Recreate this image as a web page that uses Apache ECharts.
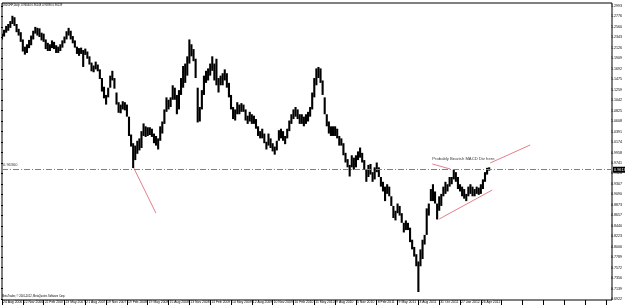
<!DOCTYPE html>
<html><head><meta charset="utf-8">
<script src="https://cdn.jsdelivr.net/npm/echarts@6/dist/echarts.min.js"></script>
<style>html,body{margin:0;padding:0;background:#fff}#c{width:625px;height:306px}</style>
</head><body><div id="c"></div>
<script>
// ---- data ----
const dateLabels = ['24 Aug 2006','22 Nov 2006','22 Feb 2007','23 May 2007','21 Aug 2007','19 Nov 2007','19 Feb 2008','19 May 2008','15 Aug 2008','13 Nov 2008','13 Feb 2009','14 May 2009','12 Aug 2009','10 Nov 2009','10 Feb 2010','11 May 2010','9 Aug 2010','5 Nov 2010','8 Feb 2011','9 May 2011','3 Aug 2011','31 Oct 2011','27 Jan 2012','26 Apr 2012'];
const yTickLabels = ['0.6922','0.7139','0.7356','0.7572','0.7789','0.8006','0.8223','0.8440','0.8657','0.8873','0.9090','0.9307','0.9524','0.9741','0.9958','1.0174','1.0391','1.0608','1.0825','1.1042','1.1259','1.1475','1.1692','1.1909','1.2126','1.2343','1.2560','1.2776','1.2993'];
const loPrice = [
1.2300,1.2360,1.2440,1.2480,1.2540,1.2620,1.2580,1.2450,1.2380,1.2250,
1.2050,1.1985,1.2020,1.2120,1.2180,1.2300,1.2420,1.2380,1.2350,1.2280,
1.2250,1.2100,1.2060,1.2060,1.2120,1.2100,1.2020,1.2020,1.2060,1.2130,
1.2220,1.2300,1.2380,1.2300,1.2220,1.2130,1.2000,1.1960,1.2000,1.1730,
1.1980,1.1900,1.1780,1.1640,1.1620,1.1680,1.1640,1.1480,1.1220,1.1080,
1.0950,1.1100,1.1300,1.1450,1.1280,1.0950,1.0780,1.0770,1.0850,1.0830,
1.0700,1.0300,1.0080,0.9636,0.9800,0.9930,1.0000,1.0050,1.0300,1.0280,
1.0300,1.0320,1.0280,1.0150,1.0100,1.0020,1.0200,1.0350,1.0550,1.0800,
1.0850,1.0900,1.1050,1.1050,1.0750,1.0850,1.1150,1.1300,1.1400,1.1550,
1.1800,1.1950,1.1850,1.1500,1.0580,1.0600,1.0850,1.1150,1.1400,1.1450,
1.1550,1.1650,1.1450,1.1350,1.1200,1.1350,1.1350,1.1450,1.1300,1.1100,
1.0850,1.0650,1.0620,1.0750,1.0750,1.0800,1.0800,1.0620,1.0550,1.0600,
1.0550,1.0550,1.0450,1.0300,1.0250,1.0250,1.0150,1.0020,1.0100,1.0050,
0.9980,0.9913,1.0000,1.0200,1.0250,1.0200,1.0130,1.0250,1.0400,1.0550,
1.0650,1.0700,1.0650,1.0550,1.0550,1.0500,1.0550,1.0600,1.0700,1.0850,
1.1100,1.1350,1.1500,1.1400,1.1150,1.0750,1.0500,1.0350,1.0300,1.0300,
1.0300,1.0250,1.0100,1.0100,0.9900,0.9750,0.9650,0.9460,0.9650,0.9600,
0.9650,0.9800,0.9850,0.9750,0.9600,0.9350,0.9450,0.9500,0.9350,0.9400,
0.9550,0.9450,0.9250,0.9150,0.8950,0.9100,0.9050,0.8850,0.8600,0.8550,
0.8700,0.8650,0.8500,0.8300,0.8350,0.8350,0.8100,0.7950,0.7800,0.7600,
0.7067,0.7600,0.7750,0.8050,0.8250,0.8650,0.8950,0.8950,0.8900,0.8570,
0.8750,0.8850,0.9050,0.9100,0.9150,0.9250,0.9300,0.9400,0.9350,0.9200,
0.9150,0.9050,0.9000,0.8950,0.9050,0.9100,0.9050,0.9050,0.9100,0.9080,
0.9100,0.9200,0.9350,0.9500,0.9580];
const hiPrice = [
1.2420,1.2500,1.2580,1.2620,1.2680,1.2790,1.2760,1.2620,1.2520,1.2450,
1.2300,1.2150,1.2200,1.2290,1.2380,1.2480,1.2560,1.2540,1.2530,1.2440,
1.2420,1.2300,1.2230,1.2200,1.2280,1.2250,1.2180,1.2150,1.2200,1.2280,
1.2360,1.2470,1.2540,1.2480,1.2370,1.2280,1.2150,1.2120,1.2130,1.2080,
1.2110,1.2050,1.1950,1.1820,1.1760,1.1840,1.1780,1.1680,1.1500,1.1320,
1.1150,1.1300,1.1550,1.1650,1.1500,1.1200,1.1000,1.0950,1.1020,1.1000,
1.0950,1.0700,1.0330,1.0150,1.0100,1.0200,1.0250,1.0400,1.0560,1.0500,
1.0480,1.0480,1.0450,1.0350,1.0300,1.0250,1.0500,1.0600,1.0850,1.1100,
1.1050,1.1100,1.1350,1.1300,1.1150,1.1250,1.1500,1.1750,1.1800,1.1950,
1.2300,1.2200,1.2100,1.1900,1.1300,1.0900,1.1250,1.1550,1.1650,1.1700,
1.1800,1.1950,1.1800,1.1900,1.1500,1.1550,1.1600,1.1680,1.1600,1.1400,
1.1150,1.0900,1.0850,1.1000,1.0950,1.0980,1.0950,1.0850,1.0720,1.0800,
1.0750,1.0720,1.0650,1.0500,1.0400,1.0450,1.0350,1.0180,1.0350,1.0250,
1.0150,1.0080,1.0200,1.0420,1.0450,1.0400,1.0300,1.0450,1.0620,1.0750,
1.0850,1.0900,1.0850,1.0750,1.0750,1.0700,1.0750,1.0800,1.0900,1.1200,
1.1500,1.1700,1.1730,1.1700,1.1450,1.1100,1.0750,1.0600,1.0500,1.0500,
1.0500,1.0450,1.0300,1.0250,1.0150,0.9950,0.9820,0.9700,0.9900,0.9850,
0.9900,0.9980,1.0060,0.9950,0.9800,0.9600,0.9700,0.9720,0.9550,0.9650,
0.9750,0.9650,0.9450,0.9350,0.9250,0.9300,0.9250,0.9050,0.8850,0.8750,
0.8900,0.8850,0.8700,0.8500,0.8550,0.8500,0.8400,0.8150,0.8000,0.7850,
0.7700,0.7950,0.8150,0.8250,0.8800,0.8900,0.9200,0.9300,0.9150,0.8900,
0.9050,0.9100,0.9250,0.9350,0.9300,0.9450,0.9450,0.9600,0.9550,0.9450,
0.9300,0.9250,0.9200,0.9100,0.9250,0.9300,0.9250,0.9200,0.9250,0.9230,
0.9300,0.9400,0.9550,0.9640,0.9650];
const levelPrice = 0.9636;
const bidText = '0.96139';
const levelText = '0.96360';
const trendLines = [
  [[63.3, 0.9636], [73.9, 0.8704]],
  [[234.5, 0.9740], [253.7, 1.0113]],
  [[210.0, 0.8579], [235.5, 0.9180]],
  [[206.7, 0.9719], [215.3, 0.9615]]
];
const noteText = 'Probably Bearish MACD Div here';
const notePos = [206.7, 0.9835];
const titleText = 'USDCHF,Daily  0.96044 0.96148 0.95890 0.96139';
const copyText = 'MetaTrader, \u00a9 2001-2012, MetaQuotes Software Corp.';

// ---- chart ----
const FONT = 'Liberation Sans, Arial, sans-serif';
const chart = echarts.init(document.getElementById('c'), null, {renderer: 'canvas'});
const bars = hiPrice.map((h, k) => [k, loPrice[k], h]);
const series = [{
  type: 'custom', xAxisIndex: 0, yAxisIndex: 0, clip: true,
  data: bars,
  renderItem: function (params, api) {
    const x = api.value(0);
    const top = api.coord([x, api.value(2)]);
    const bot = api.coord([x, api.value(1)]);
    return {type: 'rect', shape: {x: top[0] - 1.05, y: top[1], width: 2.1, height: Math.max(1, bot[1] - top[1])}, style: {fill: '#000'}};
  },
  markLine: {
    silent: true, symbol: 'none', animation: false,
    lineStyle: {color: '#8a8a3c', width: 1, type: [6, 2, 1, 2]},
    label: {show: true, position: 'end', formatter: bidText, color: '#fff', backgroundColor: '#000', fontSize: 3.8, fontFamily: FONT, padding: [1, 1], distance: 1},
    data: [{yAxis: levelPrice}]
  }
}];
trendLines.forEach(seg => series.push({
  type: 'line', xAxisIndex: 0, yAxisIndex: 0, data: seg, symbol: 'none', silent: true,
  lineStyle: {color: '#e2808a', width: 1}, z: 3
}));
series.push({
  type: 'scatter', xAxisIndex: 0, yAxisIndex: 0, symbolSize: 0, silent: true,
  data: [notePos],
  label: {show: true, position: 'inside', align: 'left', verticalAlign: 'middle', formatter: noteText, color: '#000', fontSize: 4.2, fontFamily: FONT}
});
series.push({
  type: 'scatter', xAxisIndex: 0, yAxisIndex: 0, symbolSize: 0, silent: true,
  data: [[0.5, levelPrice]],
  label: {show: true, position: 'inside', align: 'left', verticalAlign: 'bottom', offset: [0, -1], formatter: levelText, color: '#000', fontSize: 4, fontFamily: FONT}
});

chart.setOption({
  animation: false,
  backgroundColor: '#fff',
  grid: [
    {left: 1, right: 13, top: 3, bottom: 6, show: true, borderColor: '#000', borderWidth: 1, backgroundColor: '#fff'},
    {left: 1, right: 13, top: 6, bottom: 7}
  ],
  xAxis: [
    {type: 'value', gridIndex: 0, min: 0, max: 293, interval: 10,
     axisLine: {show: false}, splitLine: {show: false},
     axisTick: {show: true, length: 5, lineStyle: {color: '#000', width: 1}},
     axisLabel: {show: true, showMinLabel: true, showMaxLabel: false, hideOverlap: false, align: 'left', margin: 1, padding: [0, 0, 0, 1], fontSize: 3.4, color: '#000', fontFamily: FONT,
       formatter: v => (v % 10 === 0 && dateLabels[v / 10] !== undefined) ? dateLabels[v / 10] : ''}},
    {type: 'value', gridIndex: 1, min: 0, max: 1, show: false}
  ],
  yAxis: [
    {type: 'value', gridIndex: 0, min: 0.6901, max: 1.3055, show: false, splitLine: {show: false}},
    {type: 'value', gridIndex: 1, min: 0, max: 28, interval: 1, position: 'right',
     axisLine: {show: false}, splitLine: {show: false},
     axisTick: {show: true, length: 2, lineStyle: {color: '#000'}},
     axisLabel: {show: true, margin: 2, fontSize: 3.6, color: '#000', fontFamily: FONT, formatter: v => yTickLabels[v] || ''}}
  ],
  graphic: [
    {type: 'text', left: 2, top: 4, silent: true, style: {text: titleText, fill: '#000', font: '2.7px ' + FONT}},
    {type: 'text', left: 2, top: 295, silent: true, style: {text: copyText, fill: '#000', font: '2.6px ' + FONT}}
  ],
  series: series
});
</script>
</body></html>
